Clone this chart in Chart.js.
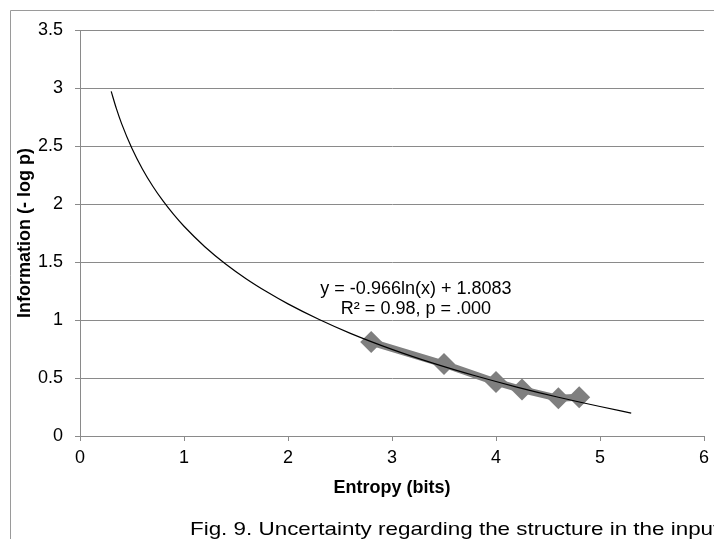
<!DOCTYPE html>
<html>
<head>
<meta charset="utf-8">
<script src="https://cdn.jsdelivr.net/npm/chart.js@4.4.1/dist/chart.umd.min.js"></script>
<style>
  html, body { margin: 0; padding: 0; background: #fff; overflow: hidden; }
  #wrap { width: 740px; height: 539px; }
</style>
</head>
<body>
<div id="wrap"><canvas id="myChart" width="740" height="539"></canvas></div>
<script>
// measured points (entropy in bits, information -log p)
const entropy = [2.8, 3.5, 4.0, 4.25, 4.6, 4.8];
const information = [0.81, 0.62, 0.465, 0.40, 0.325, 0.335];

// log trendline as drawn, y = -0.966ln(x) + 1.8083
const trendX = [0.3, 0.35, 0.4, 0.5, 0.6, 0.7, 0.8, 0.9, 1.0, 1.2, 1.4, 1.6, 1.8, 2.0, 2.3, 2.6, 3.0, 3.4, 3.8, 4.2, 4.6, 5.0, 5.3];
const trendY = [2.971, 2.822, 2.693, 2.478, 2.302, 2.153, 2.024, 1.910, 1.808, 1.632, 1.483, 1.354, 1.241, 1.139, 1.004, 0.885, 0.747, 0.626, 0.519, 0.422, 0.334, 0.254, 0.197];

const yTicks = [0, 0.5, 1, 1.5, 2, 2.5, 3, 3.5];
const xTicks = [0, 1, 2, 3, 4, 5, 6];

const eqLines = ['y = -0.966ln(x) + 1.8083', 'R\u00b2 = 0.98, p = .000'];
const caption = 'Fig. 9. Uncertainty regarding the structure in the input';

const gridColor = '#8a8a8a';
const font = 'Liberation Sans, Arial, sans-serif';

const extras = {
    id: 'extras',
    beforeDraw(chart) {
        const ctx = chart.ctx;
        ctx.save();
        ctx.fillStyle = '#fff';
        ctx.fillRect(0, 0, chart.width, chart.height);
        // outer frame
        ctx.strokeStyle = '#9a9a9a';
        ctx.lineWidth = 1;
        ctx.beginPath();
        ctx.moveTo(10.5, chart.height + 5);
        ctx.lineTo(10.5, 10.5);
        ctx.lineTo(chart.width + 5, 10.5);
        ctx.stroke();
        ctx.restore();
    },
    afterDraw(chart) {
        const ctx = chart.ctx;
        const xs = chart.scales.x, ys = chart.scales.y;
        ctx.save();
        ctx.fillStyle = '#000';
        ctx.font = '18px ' + font;
        ctx.textAlign = 'center';
        ctx.textBaseline = 'middle';
        const ex = xs.getPixelForValue(3.23);
        ctx.fillText(eqLines[0], ex, ys.getPixelForValue(1.263));
        ctx.fillText(eqLines[1], ex, ys.getPixelForValue(1.095));

        // caption, a bit wider than the plain font
        ctx.font = '18.6px ' + font;
        ctx.textAlign = 'left';
        ctx.textBaseline = 'alphabetic';
        ctx.translate(190, 535);
        ctx.scale(1.205, 1);
        ctx.fillText(caption, 0, 0);
        ctx.restore();
    }
};

const plainNum = (v) => String(v);

new Chart(document.getElementById('myChart'), {
    type: 'scatter',
    data: {
        datasets: [{
            label: 'trend',
            type: 'line',
            data: trendX.map((x, i) => ({x: x, y: trendY[i]})),
            borderColor: '#000',
            borderWidth: 1.2,
            pointRadius: 0,
            showLine: true,
            cubicInterpolationMode: 'monotone',
            fill: false
        }, {
            label: 'Information',
            type: 'line',
            data: entropy.map((x, i) => ({x: x, y: information[i]})),
            borderColor: '#808080',
            borderWidth: 7,
            backgroundColor: '#7f7f7f',
            pointStyle: 'rectRot',
            pointRadius: 11,
            pointBorderWidth: 0,
            showLine: true,
            fill: false
        }]
    },
    options: {
        responsive: false,
        animation: false,
        devicePixelRatio: 1,
        layout: { padding: { left: 10, top: 30, right: 36, bottom: 39 } },
        plugins: {
            legend: { display: false },
            tooltip: { enabled: false }
        },
        scales: {
            x: {
                type: 'linear',
                min: 0, max: 6,
                afterBuildTicks: (s) => { s.ticks = xTicks.map(v => ({value: v})); },
                afterFit: (s) => { s.height = 64; },
                grid: { display: true, drawOnChartArea: false, drawTicks: true, tickLength: 5, color: gridColor },
                border: { display: true, color: gridColor },
                ticks: { color: '#000', font: { family: font, size: 18 }, padding: 6, callback: plainNum },
                title: { display: true, text: 'Entropy (bits)', color: '#000',
                         font: { family: font, size: 18, weight: 'bold' }, padding: { top: 0, bottom: 1 } }
            },
            y: {
                type: 'linear',
                min: 0, max: 3.5,
                afterBuildTicks: (s) => { s.ticks = yTicks.map(v => ({value: v})); },
                afterFit: (s) => { s.width = 70; },
                grid: { color: gridColor, tickLength: 5, drawTicks: true },
                border: { display: true, color: gridColor },
                ticks: { color: '#000', font: { family: font, size: 18 }, padding: 12, callback: plainNum },
                title: { display: true, text: 'Information (- log p)', color: '#000',
                         font: { family: font, size: 18, weight: 'bold' }, padding: { top: 4, bottom: 0 } }
            }
        }
    },
    plugins: [extras]
});
</script>
</body>
</html>
